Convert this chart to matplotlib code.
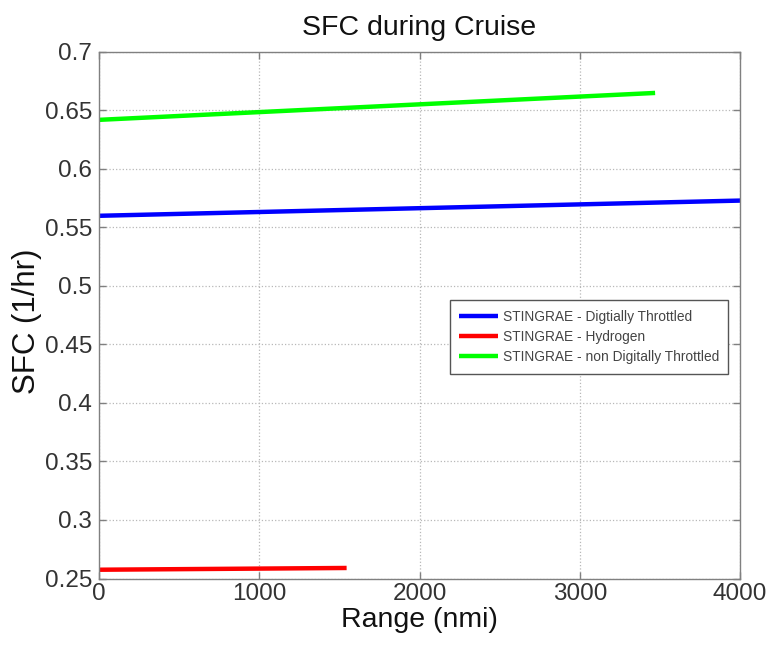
import matplotlib
matplotlib.use('Agg')
import matplotlib.pyplot as plt

plt.rcParams['font.family'] = ['Liberation Sans', 'DejaVu Sans']

# values
range_dt = [0, 4000]
sfc_dt = [0.560, 0.573]
range_h2 = [0, 1545]
sfc_h2 = [0.2575, 0.2590]
range_ndt = [0, 3470]
sfc_ndt = [0.642, 0.665]

labels = ['STINGRAE - Digtially Throttled',
          'STINGRAE - Hydrogen',
          'STINGRAE - non Digitally Throttled']
xticks = [0, 1000, 2000, 3000, 4000]
yticks = [0.25, 0.3, 0.35, 0.4, 0.45, 0.5, 0.55, 0.6, 0.65, 0.7]
ytick_labels = ['0.25', '0.3', '0.35', '0.4', '0.45', '0.5', '0.55', '0.6', '0.65', '0.7']

AXIS_GRAY = '#808080'
TEXT_GRAY = '#333333'

fig = plt.figure(figsize=(7.7, 6.45), dpi=100)
fig.patch.set_facecolor('white')
ax = fig.add_axes([0.1286, 0.1031, 0.8325, 0.8163])

ax.plot(range_dt, sfc_dt, color='#0000ff', lw=3.2, label=labels[0], solid_capstyle='butt')
ax.plot(range_h2, sfc_h2, color='#ff0000', lw=3.2, label=labels[1], solid_capstyle='butt')
ax.plot(range_ndt, sfc_ndt, color='#00ff00', lw=3.2, label=labels[2], solid_capstyle='butt')

ax.set_xlim(0, 4000)
ax.set_ylim(0.25, 0.7)
ax.set_xticks(xticks)
ax.set_xticklabels([str(t) for t in xticks])
ax.set_yticks(yticks)
ax.set_yticklabels(ytick_labels)

ax.grid(True, linestyle=':', color='#b8b8b8', lw=0.9)
for s in ax.spines.values():
    s.set_color(AXIS_GRAY)
    s.set_linewidth(1.0)
ax.tick_params(direction='in', length=5, width=1, color=AXIS_GRAY,
               labelsize=17.5, labelcolor=TEXT_GRAY,
               top=True, right=True)
ax.tick_params(axis='x', pad=3)
ax.tick_params(axis='y', pad=5)

ax.set_title('SFC during Cruise', fontsize=20.5, color='#111111', pad=12)
ax.set_xlabel('Range (nmi)', fontsize=20.5, color='#111111', labelpad=2)
ax.set_ylabel('SFC (1/hr)', fontsize=22.5, color='#111111', labelpad=0)
ax.yaxis.set_label_coords(-0.089, 0.488)

leg = ax.legend(loc='upper left', bbox_to_anchor=(0.547, 0.529), fontsize=9.9,
                frameon=True, fancybox=False, framealpha=1, edgecolor='#555555',
                handlelength=2.8, handletextpad=0.35, borderpad=0.7,
                labelspacing=0.45, borderaxespad=0)
leg.get_frame().set_linewidth(1.0)
for t in leg.get_texts():
    t.set_color('#444444')

fig.savefig('out.png', dpi=100, facecolor='white')
